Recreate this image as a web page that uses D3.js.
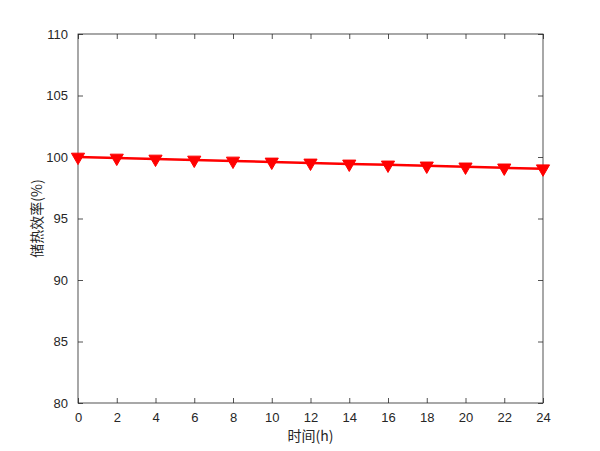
<!DOCTYPE html>
<html><head><meta charset="utf-8">
<script src="https://cdn.jsdelivr.net/npm/d3@7"></script>
<style>body{margin:0;background:#fff}</style>
</head><body>
<svg id="c" width="600" height="451"></svg>
<script>
const hours = [0, 2, 4, 6, 8, 10, 12, 14, 16, 18, 20, 22, 24];
const efficiency = [100, 99.92, 99.84, 99.76, 99.68, 99.6, 99.52, 99.44, 99.36, 99.28, 99.2, 99.12, 99.05];
const xTicks = [0, 2, 4, 6, 8, 10, 12, 14, 16, 18, 20, 22, 24];
const yTicks = [80, 85, 90, 95, 100, 105, 110];
const xLabel = "时间(h)";
const yLabel = "储热效率(%)";

const L = 78, R = 543, T = 34, B = 403;
const svg = d3.select("#c");
svg.append("rect").attr("width", 600).attr("height", 451).attr("fill", "#fff");
const x = d3.scaleLinear().domain([0, 24]).range([L, R]);
const y = d3.scaleLinear().domain([80, 110]).range([B, T]);
const axisColor = "#262626";
const font = "Helvetica, Arial, 'Liberation Sans', sans-serif";

function styleAxis(g, hideText) {
  g.select(".domain").remove();
  g.selectAll("line").attr("stroke", axisColor).attr("stroke-width", 0.8);
  g.selectAll("text").attr("fill", axisColor).style("font-family", font).style("font-size", "13px");
  if (hideText) g.selectAll("text").remove();
}
svg.append("g").attr("transform", `translate(0,${B})`)
  .call(d3.axisBottom(x).tickValues(xTicks).tickSizeInner(-5).tickSizeOuter(0).tickPadding(10))
  .call(g => styleAxis(g, false));
svg.append("g").attr("transform", `translate(0,${T})`)
  .call(d3.axisTop(x).tickValues(xTicks).tickSizeInner(-5).tickSizeOuter(0))
  .call(g => styleAxis(g, true));
svg.append("g").attr("transform", `translate(${L},0)`)
  .call(d3.axisLeft(y).tickValues(yTicks).tickSizeInner(-5).tickSizeOuter(0).tickPadding(10))
  .call(g => styleAxis(g, false));
svg.append("g").attr("transform", `translate(${R},0)`)
  .call(d3.axisRight(y).tickValues(yTicks).tickSizeInner(-5).tickSizeOuter(0))
  .call(g => styleAxis(g, true));
svg.append("rect").attr("x", L).attr("y", T).attr("width", R - L).attr("height", B - T)
  .attr("fill", "none").attr("stroke", axisColor).attr("stroke-width", 0.8);

const line = d3.line().x((d, i) => x(hours[i])).y(d => y(d));
svg.append("path").datum(efficiency).attr("d", line)
  .attr("fill", "none").attr("stroke", "#ff0000").attr("stroke-width", 2.5);
const tri = d3.symbol().type(d3.symbolTriangle).size(75);
svg.selectAll(".m").data(efficiency).enter().append("path")
  .attr("d", tri)
  .attr("transform", (d, i) => `translate(${x(hours[i])},${y(d)}) rotate(180)`)
  .attr("fill", "#ff0000").attr("stroke", "#ff0000").attr("stroke-width", 1);

svg.append("text").attr("x", (L + R) / 2).attr("y", 441).attr("text-anchor", "middle")
  .attr("fill", axisColor).style("font-family", "'Noto Sans CJK SC', sans-serif").style("font-size", "14px")
  .text(xLabel);
svg.append("text").attr("transform", `translate(42,${(T + B) / 2}) rotate(-90)`).attr("text-anchor", "middle")
  .attr("fill", axisColor).style("font-family", "'Noto Sans CJK SC', sans-serif").style("font-size", "14px")
  .text(yLabel);
</script>
</body></html>
